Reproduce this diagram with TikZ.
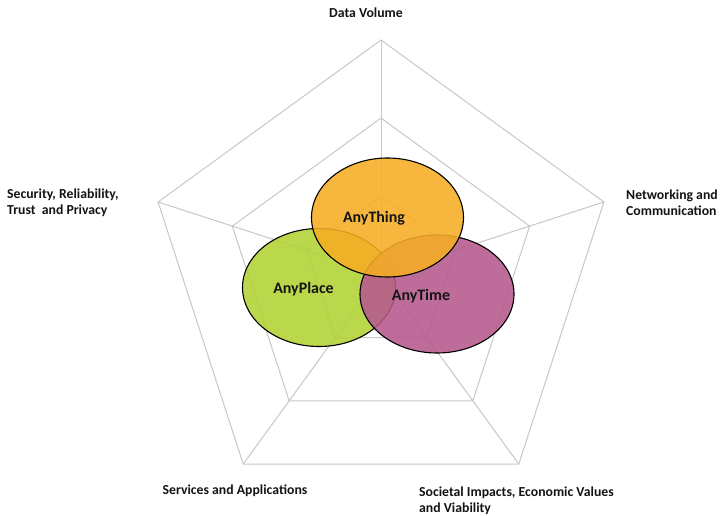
\documentclass[tikz,border=0pt]{standalone}
\usepackage{fontspec}
\setmainfont{Carlito}
\definecolor{gridgray}{RGB}{200,200,200}
\definecolor{thingorange}{RGB}{246,174,36}
\definecolor{placegreen}{RGB}{178,210,52}
\definecolor{timemagenta}{RGB}{182,88,140}
\definecolor{textdark}{RGB}{20,20,20}
\begin{document}
\begin{tikzpicture}[x=1bp,y=-1bp,
  grid/.style={draw=gridgray,line width=1bp},
  blob/.style={draw=black,line width=1.1bp,fill opacity=0.88},
  axislabel/.style={font=\fontsize{13.8}{16}\selectfont\bfseries,text=textdark,inner sep=0pt,align=left},
  bloblabel/.style={font=\fontsize{16}{18}\selectfont\bfseries,text=textdark,inner sep=0pt}]
\useasboundingbox (0,0) rectangle (721,516);
\fill[white] (0,0) rectangle (721,516);
% grid pentagons
\foreach \r in {78.1,156.3,234.4}{
  \draw[grid] ({381+\r*cos(90)},{274.4-\r*sin(90)})
    -- ({381+\r*cos(162)},{274.4-\r*sin(162)})
    -- ({381+\r*cos(234)},{274.4-\r*sin(234)})
    -- ({381+\r*cos(306)},{274.4-\r*sin(306)})
    -- ({381+\r*cos(18)},{274.4-\r*sin(18)}) -- cycle;
}
\coordinate (c) at (381,274.4);
\foreach \a in {90,162,234,306,18}{
  \draw[grid] (c) -- ({381+234.4*cos(\a)},{274.4-234.4*sin(\a)});
}
% ellipses
\draw[blob,fill=placegreen] (319,287.5) ellipse [x radius=76.5,y radius=59];
\draw[blob,fill=timemagenta] (437,294) ellipse [x radius=77,y radius=59];
\draw[blob,fill=thingorange] (387.5,217.5) ellipse [x radius=76,y radius=59.5];
\node[bloblabel] (thing) at (374,218) {AnyThing};
\node[bloblabel] (place) at (303.5,289) {AnyPlace};
\node[bloblabel] (time) at (421,296) {AnyTime};
% axis labels
\node[axislabel] (dv) at (366,13) {Data Volume};
\node[axislabel,anchor=west] (net) at (626,202.5) {Networking and\\Communication};
\node[axislabel,anchor=west] (sec) at (7,202.5) {Security, Reliability,\\Trust\ \ and Privacy};
\node[axislabel] (srv) at (235,491) {Services and Applications};
\node[axislabel,anchor=north west] (soc) at (419,486.5) {Societal Impacts, Economic Values\\and Viability};
\end{tikzpicture}
\end{document}
